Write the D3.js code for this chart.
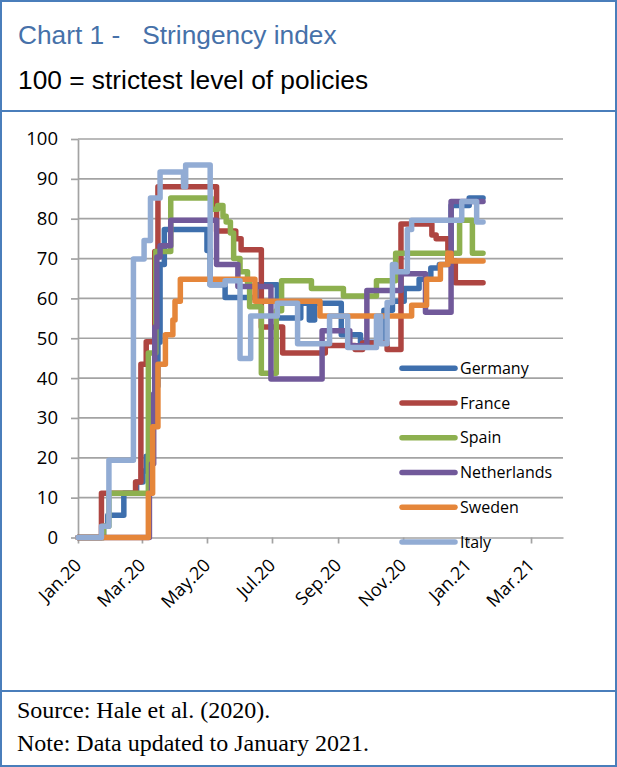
<!DOCTYPE html>
<html>
<head>
<meta charset="utf-8">
<script src="https://cdn.jsdelivr.net/npm/d3@7/dist/d3.min.js"></script>
<style>
  html, body { margin: 0; padding: 0; background: #fff; }
  svg { display: block; }
</style>
</head>
<body>
<svg id="chart" width="617" height="767"></svg>
<script>
// ---------------- DATA ----------------
const seriesNames = ["Germany", "France", "Spain", "Netherlands", "Sweden", "Italy"];
const seriesColors = ["#3e6fad", "#ae4541", "#8db04f", "#71599a", "#e5863a", "#92acd4"];
const yTicks = [0, 10, 20, 30, 40, 50, 60, 70, 80, 90, 100];
const xDomain = ["2020-01-01", "2021-03-31"];
const titleText = "Chart 1 -   Stringency index";
const subtitleText = "100 = strictest level of policies";
const sourceText = "Source: Hale et al. (2020).";
const noteText = "Note: Data updated to January 2021.";

// [date, stringency index] — values change on the given date (step series)
const germany = [
  ["2020-01-01",0],["2020-01-25",2.8],["2020-01-29",5.6],["2020-02-13",11.1],["2020-02-25",13.9],
  ["2020-03-02",16.7],["2020-03-05",20.4],["2020-03-08",25],["2020-03-10",29.6],["2020-03-13",38],
  ["2020-03-16",49],["2020-03-18",68.5],["2020-03-22",77.3],["2020-05-01",72],["2020-05-04",63.4],
  ["2020-05-18",60.2],["2020-06-16",63.4],["2020-07-06",55.1],["2020-07-28",58.8],["2020-08-05",54.6],
  ["2020-08-10",58.8],["2020-09-04",50.9],["2020-09-22",49],["2020-10-14",57],["2020-10-22",59.3],
  ["2020-11-02",62.5],["2020-11-16",64.8],["2020-11-27",67.6],["2020-12-05",68.5],["2020-12-16",83.3],
  ["2021-01-02",85.2],["2021-01-15",85.2]
];
const france = [
  ["2020-01-01",0],["2020-01-23",11.1],["2020-02-24",13.9],["2020-02-29",43.5],["2020-03-05",49.1],
  ["2020-03-13",71.8],["2020-03-16",88],["2020-05-10",76.9],["2020-05-28",75],["2020-06-02",72.2],
  ["2020-06-21",52.8],["2020-07-11",46.3],["2020-08-20",48.2],["2020-09-17",47.2],["2020-09-24",48.8],
  ["2020-10-17",47.2],["2020-10-30",78.7],["2020-11-28",75.9],["2020-12-02",75],["2020-12-13",69.4],
  ["2020-12-20",63.9],["2021-01-15",63.9]
];
const spain = [
  ["2020-01-01",0],["2020-01-25",2.8],["2020-01-30",11.1],["2020-03-07",46.3],["2020-03-14",71.8],
  ["2020-03-28",85.2],["2020-05-05",82.4],["2020-05-11",83.3],["2020-05-16",80.6],["2020-05-19",79.2],
  ["2020-05-23",76.4],["2020-05-26",70],["2020-06-01",66.7],["2020-06-08",63.9],["2020-06-10",57.9],
  ["2020-06-21",41.2],["2020-07-05",56.9],["2020-07-10",64.4],["2020-08-07",62.5],["2020-09-06",60.6],
  ["2020-10-07",64.4],["2020-10-25",71.3],["2020-12-24",79.6],["2021-01-05",71.3],["2021-01-15",71.3]
];
const netherlands = [
  ["2020-01-01",0],["2020-03-08",11.1],["2020-03-10",18.5],["2020-03-12",36.1],["2020-03-13",52.8],
  ["2020-03-15",70.4],["2020-03-18",73.2],["2020-03-28",79.6],["2020-05-10",68.5],["2020-05-30",63],
  ["2020-06-30",39.8],["2020-08-17",51.9],["2020-09-12",48.1],["2020-09-28",62],["2020-10-30",66.2],
  ["2020-11-22",56.5],["2020-12-16",84.3],["2021-01-15",84.3]
];
const sweden = [
  ["2020-01-01",0],["2020-03-07",11.1],["2020-03-11",27.8],["2020-03-16",43.5],["2020-03-23",50.9],
  ["2020-03-30",54.6],["2020-04-01",59.3],["2020-04-06",64.8],["2020-06-15",59.3],["2020-08-15",55.6],
  ["2020-11-09",58.3],["2020-11-23",64.8],["2020-12-06",68.5],["2020-12-13",71.3],["2020-12-16",69.4],
  ["2021-01-15",69.4]
];
const italy = [
  ["2020-01-01",0],["2020-01-23",2.8],["2020-01-30",19.4],["2020-02-22",69.9],["2020-03-03",74.5],
  ["2020-03-09",85.2],["2020-03-18",91.7],["2020-04-09",88],["2020-04-11",93.5],["2020-05-04",63.4],
  ["2020-05-18",64.4],["2020-06-01",44.9],["2020-06-11",55.6],["2020-07-06",58.8],["2020-07-25",48.6],
  ["2020-08-24",55.6],["2020-09-10",47.7],["2020-10-07",55.6],["2020-10-11",48.6],["2020-10-17",59],
  ["2020-10-22",68.5],["2020-10-25",66.7],["2020-11-05",77.3],["2020-11-09",79.6],["2020-12-26",84.3],
  ["2021-01-09",79.2],["2021-01-15",79.2]
];
const seriesData = [germany, france, spain, netherlands, sweden, italy];

// ---------------- DRAW ----------------
const parse = d3.timeParse("%Y-%m-%d");
const svg = d3.select("#chart");
const W = 617, H = 767;
const frameColor = "#4a7ebb";
const uiFont = "'Open Sans', 'DejaVu Sans', sans-serif";

svg.append("rect").attr("x", 0).attr("y", 0).attr("width", W).attr("height", H).attr("fill", "#fff");

// frame
svg.append("rect").attr("x", 1).attr("y", 1).attr("width", W - 2).attr("height", H - 2)
  .attr("fill", "none").attr("stroke", frameColor).attr("stroke-width", 2);
svg.append("line").attr("x1", 0).attr("x2", W).attr("y1", 111).attr("y2", 111)
  .attr("stroke", frameColor).attr("stroke-width", 2);
svg.append("line").attr("x1", 0).attr("x2", W).attr("y1", 691).attr("y2", 691)
  .attr("stroke", frameColor).attr("stroke-width", 2);

// titles
svg.append("text").attr("x", 18).attr("y", 43.5)
  .attr("font-family", "'Liberation Sans', Arial, sans-serif").attr("font-size", 26.3)
  .attr("fill", "#4671a9").style("white-space", "pre").text(titleText);
svg.append("text").attr("x", 18).attr("y", 88.5)
  .attr("font-family", "'Liberation Sans', Arial, sans-serif").attr("font-size", 26.3)
  .attr("fill", "#000").text(subtitleText);

// footer
svg.append("text").attr("x", 17).attr("y", 718)
  .attr("font-family", "'Liberation Serif', 'Times New Roman', serif").attr("font-size", 24)
  .attr("fill", "#000").text(sourceText);
svg.append("text").attr("x", 17).attr("y", 750.5)
  .attr("font-family", "'Liberation Serif', 'Times New Roman', serif").attr("font-size", 24)
  .attr("fill", "#000").text(noteText);

// scales
const x = d3.scaleTime().domain(xDomain.map(parse)).range([78, 563]);
const y = d3.scaleLinear().domain([0, 100]).range([537.5, 139]);

const gridColor = "#a3a3a3";

// gridlines
svg.append("g").selectAll("line").data(yTicks.filter(d => d > 0)).join("line")
  .attr("x1", 78).attr("x2", 563)
  .attr("y1", d => y(d)).attr("y2", d => y(d))
  .attr("stroke", gridColor).attr("stroke-width", 1.7);

// y axis
const yAxis = svg.append("g").attr("transform", "translate(78,0)")
  .call(d3.axisLeft(y).tickValues(yTicks).tickSize(7).tickPadding(13).tickSizeOuter(0));
yAxis.select(".domain").attr("stroke", gridColor).attr("stroke-width", 1.7);
yAxis.selectAll(".tick line").attr("stroke", gridColor).attr("stroke-width", 1.7);
yAxis.selectAll("text").attr("font-family", uiFont).attr("font-size", 18.5).attr("fill", "#000");

// x axis
const xAxis = svg.append("g").attr("transform", "translate(0," + y(0) + ")")
  .call(d3.axisBottom(x).ticks(d3.timeMonth.every(2)).tickSize(6).tickSizeOuter(0)
    .tickFormat(d3.timeFormat("%b.%y")));
xAxis.select(".domain").attr("stroke", gridColor).attr("stroke-width", 1.7);
xAxis.selectAll(".tick line").attr("stroke", gridColor).attr("stroke-width", 1.7);
xAxis.selectAll("text")
  .attr("font-family", uiFont).attr("font-size", 18).attr("fill", "#000")
  .attr("x", 0).attr("y", 0).attr("dy", 0)
  .attr("text-anchor", "end")
  .attr("transform", "translate(4,29) rotate(-45)");

// series
const line = d3.line()
  .x(d => x(parse(d[0])))
  .y(d => y(d[1]))
  .curve(d3.curveStepAfter);

svg.append("g").selectAll("path").data(seriesData).join("path")
  .attr("d", d => line(d))
  .attr("fill", "none")
  .attr("stroke", (d, i) => seriesColors[i])
  .attr("stroke-width", 5.5)
  .attr("stroke-linejoin", "round")
  .attr("stroke-linecap", "round");

// legend
const legend = svg.append("g");
const legendY = d3.scalePoint().domain(seriesNames).range([368.3, 542]);
const lg = legend.selectAll("g").data(seriesNames).join("g")
  .attr("transform", d => "translate(0," + legendY(d) + ")");
lg.append("line").attr("x1", 402).attr("x2", 455).attr("y1", 0).attr("y2", 0)
  .attr("stroke", (d, i) => seriesColors[i]).attr("stroke-width", 5.5).attr("stroke-linecap", "round");
lg.append("text").attr("x", 460).attr("y", 0).attr("dy", "0.35em")
  .attr("font-family", uiFont).attr("font-size", 16).attr("fill", "#000").text(d => d);
</script>
</body>
</html>
